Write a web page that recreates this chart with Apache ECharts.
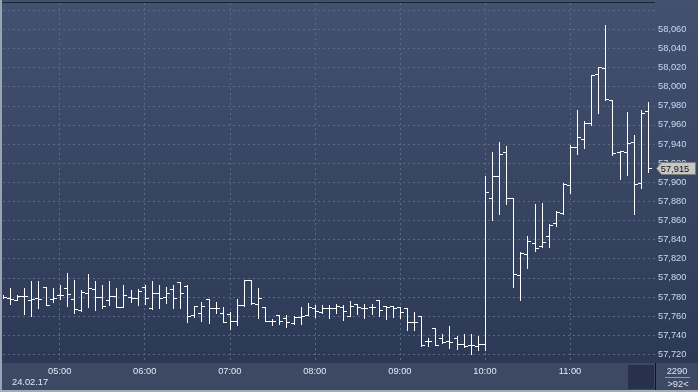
<!DOCTYPE html>
<html>
<head>
<meta charset="utf-8">
<script src="https://cdn.jsdelivr.net/npm/echarts@6/dist/echarts.min.js"></script>
<style>
  html, body { margin: 0; padding: 0; background: #2c3956; }
  #chart { width: 698px; height: 392px; background: linear-gradient(#435170 0px, #2c3956 363px, #2c3956 392px); }
</style>
</head>
<body>
<div id="chart"></div>
<script>
// M5 bar times
const times = ['04:20','04:25','04:30','04:35','04:40','04:45','04:50','04:55',
  '05:00','05:05','05:10','05:15','05:20','05:25','05:30','05:35','05:40','05:45','05:50','05:55',
  '06:00','06:05','06:10','06:15','06:20','06:25','06:30','06:35','06:40','06:45','06:50','06:55',
  '07:00','07:05','07:10','07:15','07:20','07:25','07:30','07:35','07:40','07:45','07:50','07:55',
  '08:00','08:05','08:10','08:15','08:20','08:25','08:30','08:35','08:40','08:45','08:50','08:55',
  '09:00','09:05','09:10','09:15','09:20','09:25','09:30','09:35','09:40','09:45','09:50','09:55',
  '10:00','10:05','10:10','10:15','10:20','10:25','10:30','10:35','10:40','10:45','10:50','10:55',
  '11:00','11:05','11:10','11:15','11:20','11:25','11:30','11:35','11:40','11:45','11:50','11:55'];

const opens = [57781,57779,57777,57781,57777,57779,57790,57778,
  57782,57789,57778,57766,57784,57788,57780,57777,57781,57770,57780,57779,
  57790,57768,57784,57780,57788,57796,57791,57761,57763,57778,57768,57763,
  57762,57755,57772,57798,57773,57770,57755,57761,57758,57753,57759,57761,
  57768,57764,57768,57768,57769,57760,57773,57768,57769,57777,57771,57771,
  57770,57768,57754,57760,57734,57748,57737,57734,57737,57731,57730,57729,
  57731,57884,57906,57932,57883,57803,57825,57836,57833,57844,57857,57868,
  57897,57937,57945,57962,58013,58020,57986,57932,57932,57942,57899,57974];

const highs = [57782,57789,57782,57789,57797,57797,57790,57789,
  57792,57805,57798,57787,57804,57797,57792,57797,57789,57792,57787,57788,
  57792,57797,57792,57790,57792,57796,57792,57771,57775,57778,57775,57770,
  57764,57778,57798,57798,57789,57770,57757,57761,57761,57760,57770,57774,
  57772,57772,57772,57773,57772,57776,57773,57773,57773,57777,57771,57771,
  57770,57768,57764,57760,57737,57748,57741,57750,57739,57741,57741,57739,
  57907,57932,57942,57938,57883,57827,57844,57877,57878,57856,57870,57899,
  57939,57976,57964,58012,58021,58064,57986,57933,57973,57949,57976,57984];

const lows = [57779,57773,57777,57762,57760,57768,57772,57775,
  57778,57771,57763,57765,57769,57766,57768,57772,57769,57770,57775,57772,
  57773,57767,57768,57774,57768,57768,57754,57759,57755,57753,57763,57754,
  57746,57751,57771,57773,57758,57755,57751,57752,57749,57752,57752,57761,
  57759,57763,57758,57763,57756,57760,57762,57758,57762,57760,57757,57759,
  57758,57745,57745,57729,57729,57730,57732,57727,57726,57728,57720,57725,
  57724,57860,57867,57877,57790,57777,57810,57828,57832,57832,57854,57867,
  57889,57930,57936,57960,57972,57986,57928,57903,57908,57867,57894,57911];

const closes = [57780,57778,57781,57781,57778,57778,57772,57779,
  57782,57783,57767,57785,57789,57780,57771,57781,57770,57782,57779,57786,
  57779,57784,57779,57784,57779,57784,57760,57771,57771,57768,57768,57754,
  57755,57772,57798,57774,57779,57755,57755,57755,57754,57759,57760,57769,
  57765,57768,57768,57771,57765,57771,57769,57768,57770,57766,57769,57768,
  57764,57754,57754,57730,57734,57730,57733,57733,57731,57729,57730,57731,
  57890,57907,57930,57883,57804,57826,57839,57831,57837,57855,57869,57898,
  57937,57947,57962,58012,58021,57987,57931,57933,57941,57898,57972,57915];

const yTickValues = [57720,57740,57760,57780,57800,57820,57840,57860,57880,57900,
  57920,57940,57960,57980,58000,58020,58040,58060];
const xTickLabels = ['05:00','06:00','07:00','08:00','09:00','10:00','11:00'];
const dateLabel = '24.02.17';
const barsCountLabel = '2290';
const visibleBarsLabel = '>92<';

const toMin = s => { const p = s.split(':'); return (+p[0]) * 60 + (+p[1]); };
const xTickValues = xTickLabels.map(toMin);
const seriesData = times.map((t, i) => [toMin(t), opens[i], highs[i], lows[i], closes[i]]);
const lastClose = closes[closes.length - 1];
const fmt = v => Math.round(v).toLocaleString('en-US');

const FONT = 'Liberation Sans, Arial, sans-serif';
const chart = echarts.init(document.getElementById('chart'), null, { renderer: 'canvas' });

const r5 = v => Math.round(v) + 0.5;

const staticGraphics = [
  { id: 'band', type: 'rect', z: -1, shape: { x: 0, y: 363, width: 698, height: 29 }, style: { fill: '#3d4963' } },
  { id: 'sq', type: 'rect', z: 1, shape: { x: 628, y: 365, width: 26, height: 24 }, style: { fill: '#27324a' } },
  { id: 'sep', type: 'line', z: 1, shape: { x1: 655.5, y1: 363, x2: 655.5, y2: 392 }, style: { stroke: '#0e131c', lineWidth: 1 } },
  { id: 'top', type: 'line', z: 1, shape: { x1: 0, y1: 2.5, x2: 655, y2: 2.5 }, style: { stroke: '#1c2434', lineWidth: 1 } },
  { id: 'lb', type: 'rect', z: 5, shape: { x: 0, y: 0, width: 2, height: 392 }, style: { fill: '#9aa3b3' } },
  { id: 'bb', type: 'rect', z: 5, shape: { x: 0, y: 390, width: 698, height: 2 }, style: { fill: '#a4acb8' } },
  { id: 'date', type: 'text', z: 2, x: 12, y: 382, style: { text: dateLabel, fill: '#e2e9f5', font: '9.3px ' + FONT, verticalAlign: 'middle' } },
  { id: 'cnt', type: 'text', z: 2, x: 677, y: 371, style: { text: barsCountLabel, fill: '#dde5f2', font: '9.3px ' + FONT, align: 'center', verticalAlign: 'middle' } },
  { id: 'ul', type: 'line', z: 2, shape: { x1: 665, y1: 377.5, x2: 690, y2: 377.5 }, style: { stroke: '#8f9ab0', lineWidth: 1 } },
  { id: 'vis', type: 'text', z: 2, x: 678, y: 384, style: { text: visibleBarsLabel, fill: '#dde5f2', font: '9.3px ' + FONT, align: 'center', verticalAlign: 'middle' } }
];

chart.setOption({
  backgroundColor: 'transparent',
  animation: false,
  grid: { left: 3, right: 43, top: 3, bottom: 29, containLabel: false },
  xAxis: {
    type: 'value', min: 260, max: 720, minInterval: 60, maxInterval: 60,
    axisLine: { show: false }, axisTick: { show: false },
    axisLabel: {
      showMinLabel: false, showMaxLabel: false, margin: 4,
      color: '#e2e9f5', fontSize: 9.3, fontFamily: FONT,
      formatter: v => { const i = xTickValues.indexOf(Math.round(v)); return i >= 0 ? xTickLabels[i] : ''; }
    },
    splitLine: { show: true, showMinLine: false, showMaxLine: false,
      lineStyle: { color: '#5a6985', type: [2, 3], width: 1 } }
  },
  yAxis: {
    type: 'value', position: 'right', min: 57710.9, max: 58087.5, minInterval: 20, maxInterval: 20,
    axisLine: { show: false }, axisTick: { show: false },
    axisLabel: {
      showMinLabel: false, showMaxLabel: false, margin: 3,
      color: '#cbd8f0', fontSize: 9.3, fontFamily: FONT,
      formatter: v => yTickValues.indexOf(Math.round(v)) >= 0 ? fmt(v) : ''
    },
    splitLine: { show: true, showMinLine: false, showMaxLine: false,
      lineStyle: { color: '#5a6985', type: [2, 3], width: 1 } }
  },
  series: [{
    type: 'custom',
    clip: true,
    data: seriesData,
    encode: { x: 0, y: [1, 2, 3, 4] },
    renderItem: function (params, api) {
      const t = api.value(0);
      const ph = api.coord([t, api.value(2)]);
      const pl = api.coord([t, api.value(3)]);
      const po = api.coord([t, api.value(1)]);
      const pc = api.coord([t, api.value(4)]);
      const x = r5(ph[0]);
      const st = { stroke: '#ffffff', lineWidth: 1 };
      return {
        type: 'group',
        children: [
          { type: 'line', shape: { x1: x, y1: Math.round(ph[1]), x2: x, y2: Math.round(pl[1]) + 1 }, style: st },
          { type: 'line', shape: { x1: x - 3.5, y1: r5(po[1]), x2: x, y2: r5(po[1]) }, style: st },
          { type: 'line', shape: { x1: x, y1: r5(pc[1]), x2: x + 3.5, y2: r5(pc[1]) }, style: st }
        ]
      };
    }
  }],
  graphic: staticGraphics
});

// current price tag on the price scale, placed through the y axis scale
const py = Math.round(chart.convertToPixel({ yAxisIndex: 0 }, lastClose)) + 0.5;
chart.setOption({
  graphic: staticGraphics.concat([
    { id: 'tag', type: 'polygon', z: 10,
      shape: { points: [[656.5, py], [661.5, py - 6], [695.5, py - 6], [695.5, py + 6], [661.5, py + 6]] },
      style: { fill: '#c6c6c6', stroke: '#7c7c7c', lineWidth: 1 } },
    { id: 'tagtxt', type: 'text', z: 11, x: 675, y: py + 0.5,
      style: { text: fmt(lastClose), fill: '#111111', font: '9.3px ' + FONT, align: 'center', verticalAlign: 'middle' } }
  ])
});
</script>
</body>
</html>
